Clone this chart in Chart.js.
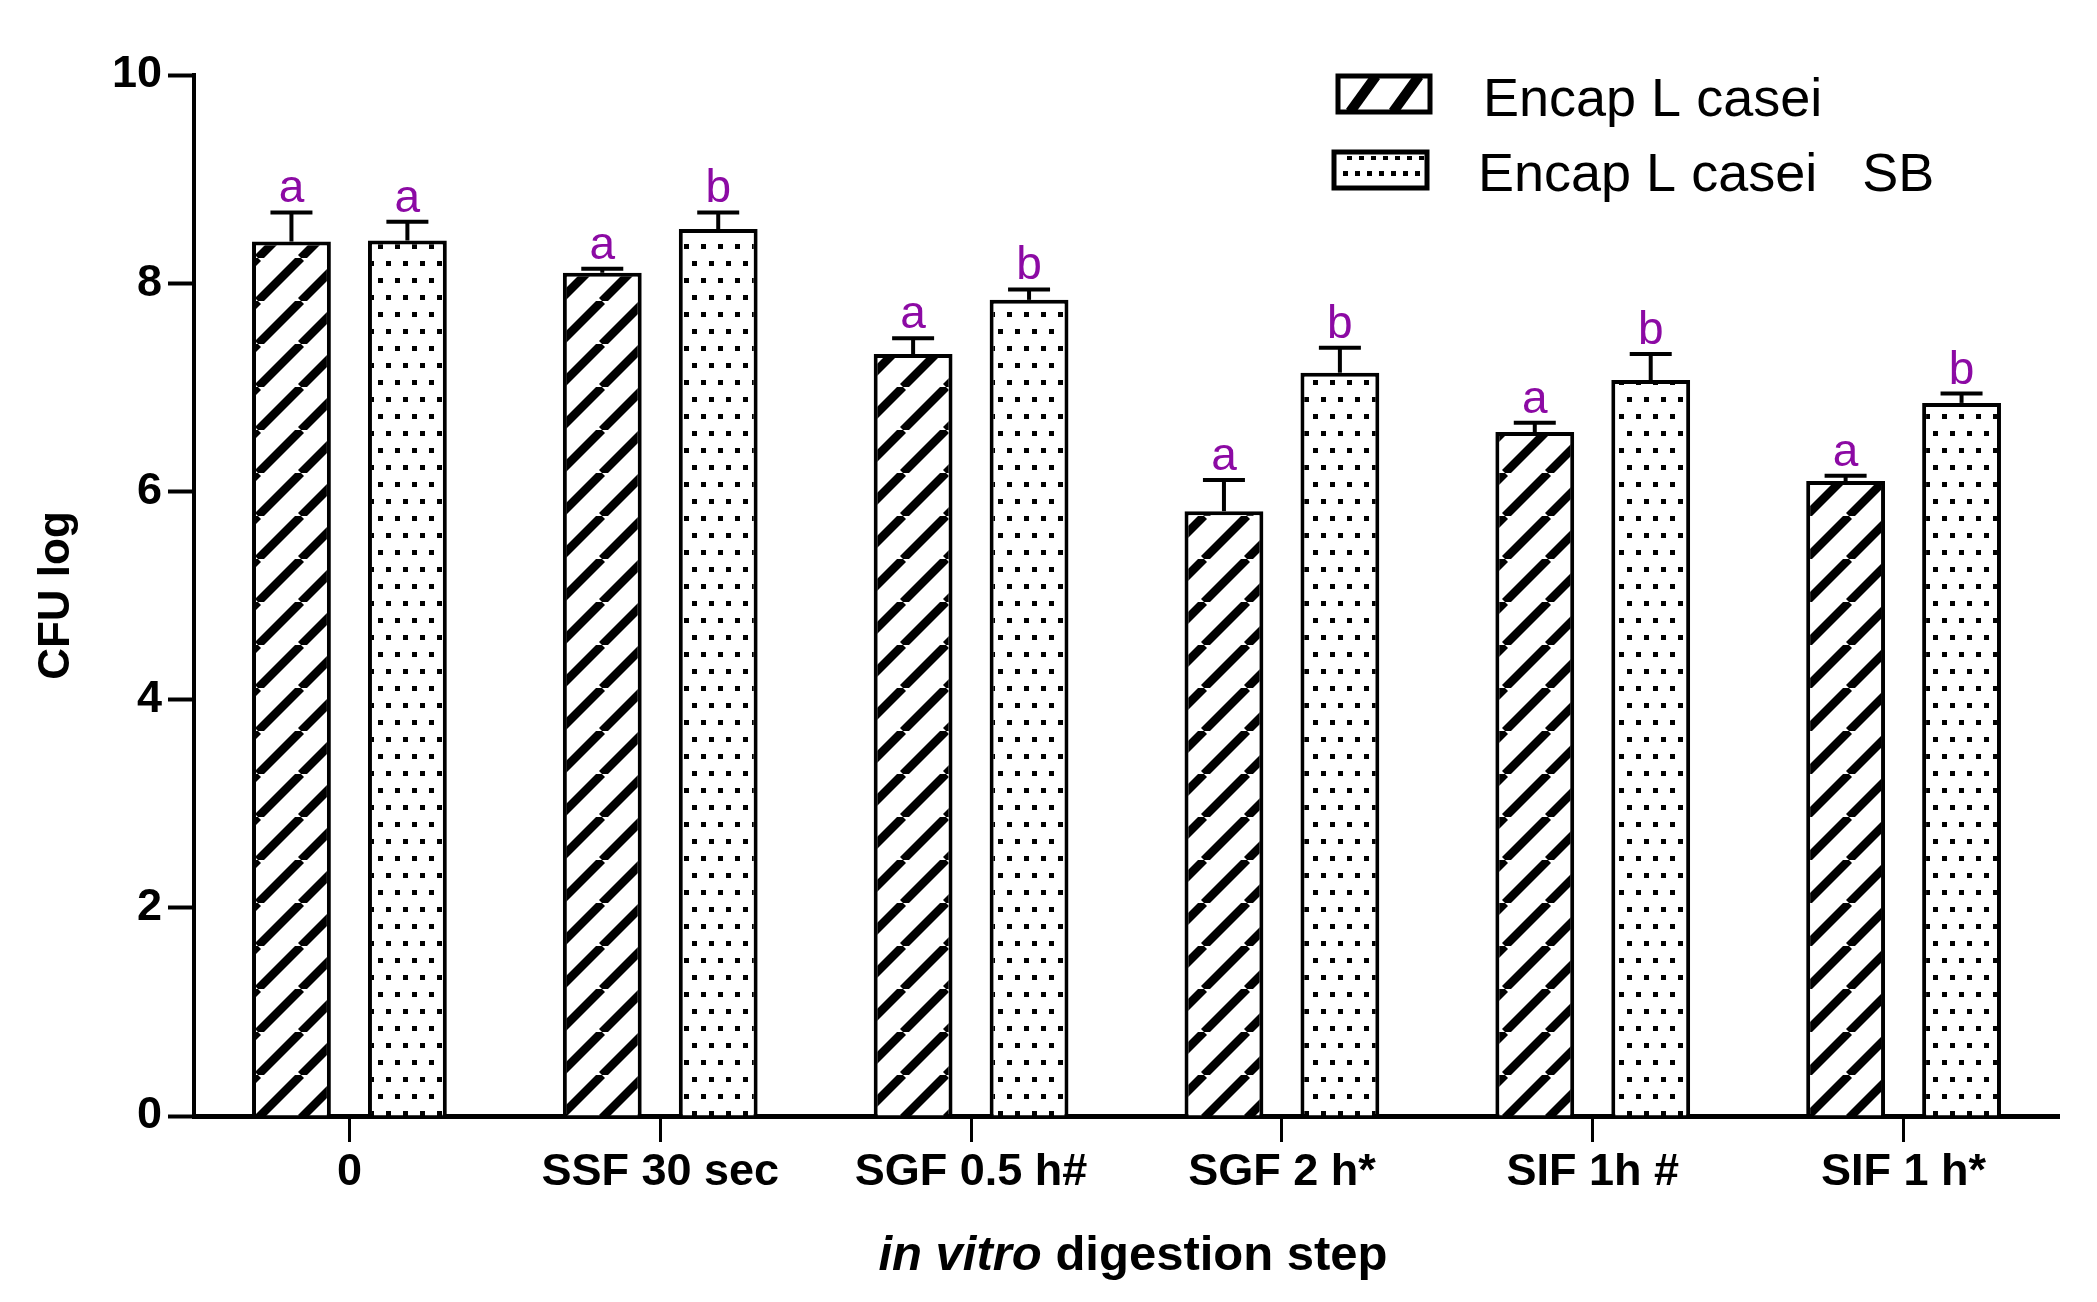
<!DOCTYPE html>
<html>
<head>
<meta charset="utf-8">
<script src="https://cdn.jsdelivr.net/npm/chart.js@4.4.1/dist/chart.umd.min.js"></script>
<style>
html,body{margin:0;padding:0;background:#fff;}
#wrap{width:2097px;height:1302px;position:relative;}
canvas{display:block;}
</style>
</head>
<body>
<div id="wrap"><canvas id="c" width="2097" height="1302" style="width:2097px;height:1302px"></canvas></div>
<script>
// ---- data ----
const categories = ['0', 'SSF 30 sec', 'SGF 0.5 h#', 'SGF 2 h*', 'SIF 1h #', 'SIF 1 h*'];
const seriesNames = ['Encap L casei', 'Encap L casei   SB'];
const encapValues = [8.40, 8.10, 7.32, 5.81, 6.57, 6.10];
const encapErrors = [0.28, 0.04, 0.15, 0.30, 0.09, 0.05];
const sbValues = [8.41, 8.52, 7.84, 7.14, 7.07, 6.85];
const sbErrors = [0.18, 0.16, 0.10, 0.24, 0.25, 0.09];
const encapLetters = ['a', 'a', 'a', 'a', 'a', 'a'];
const sbLetters = ['a', 'b', 'b', 'b', 'b', 'b'];
const yTicks = [0, 2, 4, 6, 8, 10];

const FONT = "'Liberation Sans', Arial, Helvetica, sans-serif";
const PURPLE = '#8c0aa4';

const canvas = document.getElementById('c');
const ctx = canvas.getContext('2d');

function hatchPattern() {
  const p = 43;
  const c = document.createElement('canvas');
  c.width = p; c.height = p;
  const g = c.getContext('2d');
  g.fillStyle = '#fff'; g.fillRect(0, 0, p, p);
  g.strokeStyle = '#000'; g.lineWidth = 8.5;
  for (let k = -1; k <= 1; k++) {
    g.beginPath(); g.moveTo(k * p, p); g.lineTo(k * p + p, 0); g.stroke();
  }
  return ctx.createPattern(c, 'repeat');
}
function dotPattern() {
  const w = 17, h = 34;
  const c = document.createElement('canvas');
  c.width = w; c.height = h;
  const g = c.getContext('2d');
  g.fillStyle = '#fff'; g.fillRect(0, 0, w, h);
  g.fillStyle = '#000';
  g.fillRect(4, 6, 5, 5);
  g.fillRect(12, 23, 5, 5);
  g.fillRect(-5, 23, 5, 5);
  return ctx.createPattern(c, 'repeat');
}

const hatch = hatchPattern();
const dots = dotPattern();

const errorsBySet = [encapErrors, sbErrors];
const lettersBySet = [encapLetters, sbLetters];

const errorBarPlugin = {
  id: 'errorBars',
  afterDatasetsDraw(chart) {
    const g = chart.ctx;
    const ys = chart.scales.y;
    g.save();
    chart.data.datasets.forEach((ds, di) => {
      const meta = chart.getDatasetMeta(di);
      meta.data.forEach((el, i) => {
        const top = ys.getPixelForValue(ds.data[i] + errorsBySet[di][i]);
        const x = el.x;
        g.strokeStyle = '#000';
        g.lineWidth = 4;
        g.lineCap = 'butt';
        g.beginPath();
        g.moveTo(x, el.y);
        g.lineTo(x, top);
        g.stroke();
        g.beginPath();
        g.moveTo(x - 21, top);
        g.lineTo(x + 21, top);
        g.stroke();
        g.fillStyle = PURPLE;
        g.font = '46px ' + FONT;
        g.textAlign = 'center';
        g.textBaseline = 'alphabetic';
        g.fillText(lettersBySet[di][i], x, top - 10);
      });
    });
    g.restore();
  }
};

const legendPlugin = {
  id: 'customLegend',
  afterDraw(chart) {
    const g = chart.ctx;
    g.save();
    // box 1 (hatched)
    const b1 = {x: 1338, y: 76, w: 92, h: 36};
    g.save();
    g.beginPath(); g.rect(b1.x, b1.y, b1.w, b1.h); g.clip();
    g.fillStyle = '#fff'; g.fillRect(b1.x, b1.y, b1.w, b1.h);
    g.strokeStyle = '#000'; g.lineWidth = 10;
    [12, 55].forEach(off => {
      g.beginPath();
      g.moveTo(b1.x + off, b1.y + b1.h);
      g.lineTo(b1.x + off + 26, b1.y);
      g.stroke();
    });
    g.restore();
    g.strokeStyle = '#000'; g.lineWidth = 5;
    g.strokeRect(b1.x, b1.y, b1.w, b1.h);
    // box 2 (dotted)
    const b2 = {x: 1334, y: 152, w: 93, h: 36};
    g.fillStyle = '#fff'; g.fillRect(b2.x, b2.y, b2.w, b2.h);
    g.fillStyle = '#000';
    for (let x = b2.x + 9; x < b2.x + b2.w - 6; x += 12) {
      g.fillRect(x, b2.y + b2.h / 2 + 1, 5, 5);
      g.fillRect(x + 4, b2.y + 4, 5, 4);
    }
    g.strokeStyle = '#000'; g.lineWidth = 5;
    g.strokeRect(b2.x, b2.y, b2.w, b2.h);
    // texts
    g.fillStyle = '#000';
    g.font = '54px ' + FONT;
    g.textAlign = 'left';
    g.textBaseline = 'alphabetic';
    g.fillText(seriesNames[0], 1483, 116);
    g.fillText(seriesNames[1], 1478, 191);
    g.restore();
  }
};

const xTitlePlugin = {
  id: 'xTitle',
  afterDraw(chart) {
    const g = chart.ctx;
    g.save();
    g.fillStyle = '#000';
    g.textBaseline = 'alphabetic';
    g.textAlign = 'left';
    const p1 = 'in vitro', p2 = ' digestion step';
    const f1 = 'italic bold 49px ' + FONT, f2 = 'bold 49px ' + FONT;
    g.font = f1; const w1 = g.measureText(p1).width;
    g.font = f2; const w2 = g.measureText(p2).width;
    const cx = 1133;
    let x = cx - (w1 + w2) / 2;
    g.font = f1; g.fillText(p1, x, 1270);
    g.font = f2; g.fillText(p2, x + w1, 1270);
    g.restore();
  }
};

new Chart(canvas, {
  type: 'bar',
  data: {
    labels: categories,
    datasets: [
      {label: seriesNames[0], data: encapValues, backgroundColor: hatch, borderColor: '#000', borderWidth: 4,
       barPercentage: 0.68, categoryPercentage: 0.746},
      {label: seriesNames[1], data: sbValues, backgroundColor: dots, borderColor: '#000', borderWidth: 4,
       barPercentage: 0.68, categoryPercentage: 0.746}
    ]
  },
  options: {
    responsive: false,
    devicePixelRatio: 1,
    animation: false,
    layout: {padding: {top: 75, right: 38, bottom: 0, left: 0}},
    plugins: {legend: {display: false}, tooltip: {enabled: false}, title: {display: false}},
    scales: {
      x: {
        offset: true,
        grid: {display: true, offset: false, drawOnChartArea: false, drawTicks: true, tickLength: 26, tickWidth: 3, tickColor: '#000'},
        border: {display: true, color: '#000', width: 5},
        ticks: {color: '#000', font: {family: FONT, size: 45, weight: 'bold'}, padding: 4, maxRotation: 0, autoSkip: false},
        afterFit(scale) { scale.height = 186; }
      },
      y: {
        min: 0, max: 10,
        afterBuildTicks(scale) { scale.ticks = yTicks.map(v => ({value: v})); },
        grid: {display: true, drawOnChartArea: false, drawTicks: true, tickLength: 26, tickWidth: 4, tickColor: '#000'},
        border: {display: true, color: '#000', width: 4},
        ticks: {color: '#000', font: {family: FONT, size: 45, weight: 'bold'}, padding: 6},
        title: {display: true, text: 'CFU log', color: '#000', font: {family: FONT, size: 44, weight: 'bold'}, padding: {top: 30, bottom: 0}},
        afterFit(scale) { scale.width = 194; }
      }
    }
  },
  plugins: [errorBarPlugin, legendPlugin, xTitlePlugin]
});
</script>
</body>
</html>
